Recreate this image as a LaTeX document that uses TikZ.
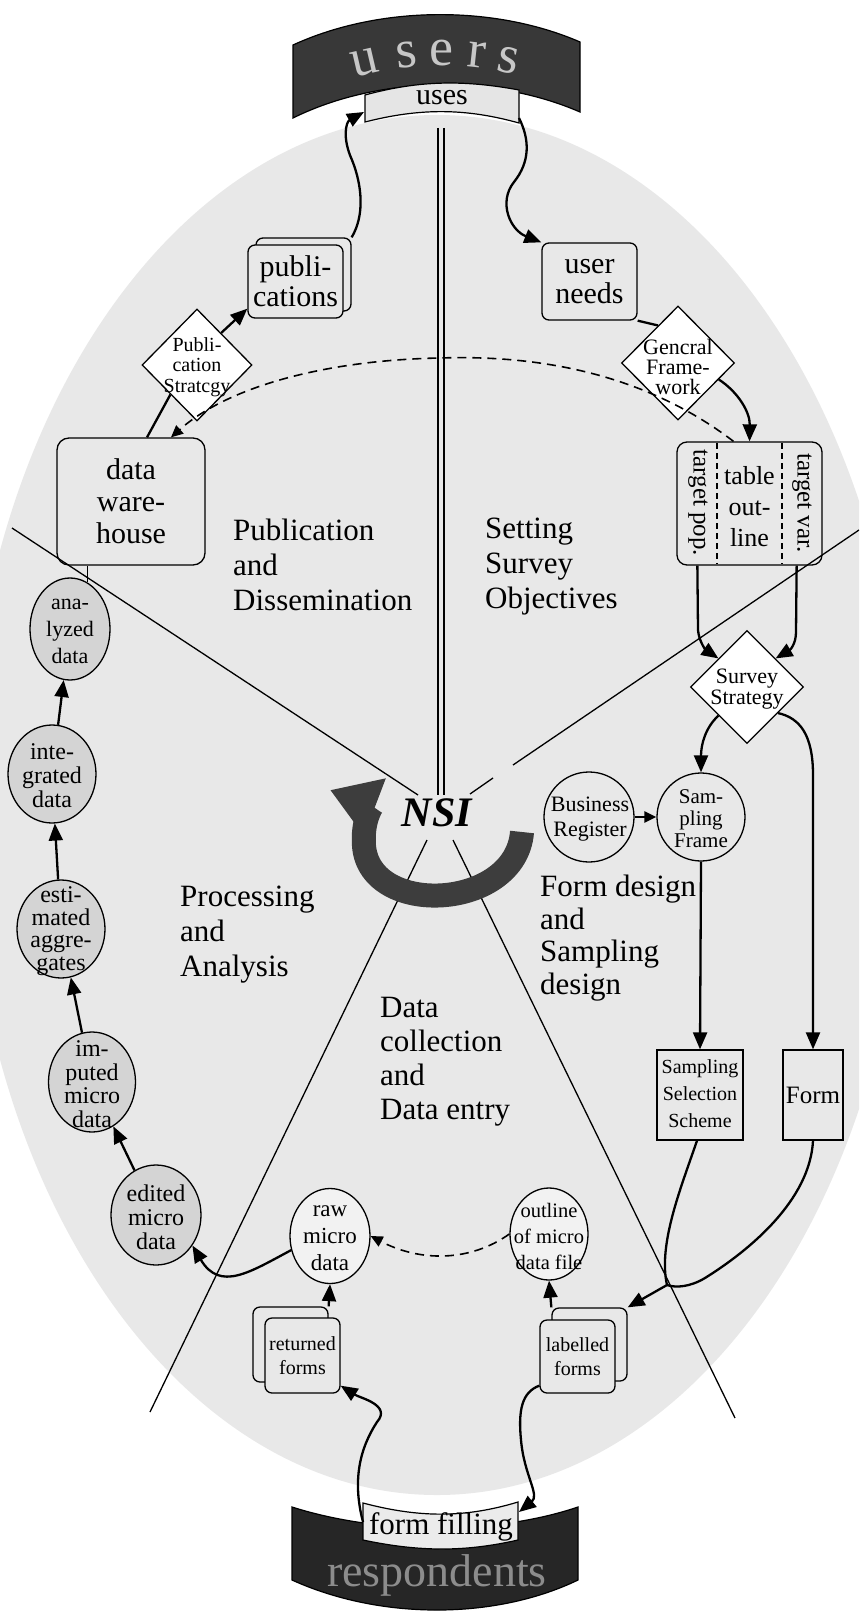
\documentclass[tikz,border=0pt]{standalone}
\usepackage{fontspec}
\setmainfont{Liberation Serif}
\usetikzlibrary{shapes.geometric,arrows.meta,calc}
\newcommand\myfs[2]{\fontsize{#1}{#2}\selectfont}
\colorlet{bgc}{black!9}
\begin{document}
\begin{tikzpicture}[x=1pt,y=-1pt,
  bx/.style={draw, line width=1.3pt, rounded corners=7pt, align=center, inner sep=0pt},
  sq/.style={draw, line width=1.3pt, align=center, inner sep=0pt},
  dia/.style={diamond, draw, line width=1.3pt, fill=white, inner sep=0pt, aspect=1},
  circ/.style={ellipse, draw, line width=1.3pt, inner sep=0pt},
  txt/.style={align=center, inner sep=0pt},
  lbl/.style={align=left, anchor=west, inner sep=0pt, font=\myfs{31}{35}},
  conn/.style={line width=2.3pt},
  tip/.style={-{Triangle[length=17pt,width=14pt]}},
  smalltip/.style={-{Triangle[length=12pt,width=11pt]}},
  dsh/.style={line width=1.6pt, dash pattern=on 9pt off 6pt},
  divl/.style={line width=1.3pt},
  usr/.style={font=\myfs{54}{54}, text=black!22, inner sep=0pt},
  resp/.style={font=\myfs{46}{46}, text=black!45, inner sep=0pt}]

\useasboundingbox (0,0) rectangle (859,1613);
\clip (0,0) rectangle (859,1613);
\fill[white] (0,0) rectangle (859,1613);
% stippled background
\fill[bgc] (437,805) ellipse [x radius=470, y radius=690];

% divider lines
\draw[divl] (12,528) -- (418,795);
\draw[divl] (859,530) -- (513,765);
\draw[divl] (493,778) -- (470,794);
\draw[divl] (427,840) -- (150,1412);
\draw[divl] (453,840) -- (735,1418);
\draw[line width=1.2pt] (438,128) -- (438,795);
\draw[line width=1.2pt] (444,128) -- (444,795);

% NSI circular arrow
\draw[line width=24pt, black!76, -{Triangle[length=48pt,width=58pt]}]
  (522,832) .. controls (516,910) and (370,918) .. (364,846)
  .. controls (362,820) and (372,806) .. (330,790);
\node[font=\myfs{42}{42}\bfseries\itshape, inner sep=1pt] (nsi) at (437,813) {NSI};

% top banner
\filldraw[fill=black!78, line width=1.2pt] (293,45) .. controls (380,5) and (495,5) .. (580,42)
  -- (580,112) .. controls (495,75) and (380,75) .. (293,118) -- cycle;
\foreach \c/\px [count=\i] in {u/368,s/408,e/441,r/475,s/506}
  \node[usr, anchor=base, rotate={-atan(2*0.0016*(\px-441))}] (usr\i) at (\px,{66+0.0016*(\px-441)^2}) {\c};
\filldraw[fill=black!10, line width=1.2pt] (365,95) .. controls (420,80) and (465,80) .. (519,90)
  -- (519,123) .. controls (465,108) and (420,108) .. (365,122) -- cycle;
\node[font=\myfs{30}{30}, anchor=base, inner sep=0pt] (uses) at (442,105) {uses};
\coordinate (usesL) at (364,112);
\coordinate (usesR) at (519,118);

% bottom banner
\filldraw[fill=black!85, line width=1.2pt] (292,1507) .. controls (380,1535) and (495,1535) .. (578,1507)
  -- (578,1580) .. controls (495,1620) and (380,1620) .. (292,1580) -- cycle;
\node[resp, anchor=base] (resp) at (437,1586) {respondents};
\filldraw[fill=black!8, line width=1.2pt] (363,1503) .. controls (420,1518) and (465,1518) .. (518,1502)
  -- (518,1540) .. controls (465,1552) and (420,1552) .. (363,1540) -- cycle;
\node[font=\myfs{31}{31}, anchor=base, inner sep=0pt] (ff) at (441,1534) {form filling};
\coordinate (ffL) at (363,1522);
\coordinate (ffR) at (519,1512);

% region labels
\node[lbl] (lpub) at (233,565) {Publication\\and\\Dissemination};
\node[lbl] (lset) at (485,567) {Setting\\Survey\\Objectives};
\node[lbl] (lproc) at (180,935) {Processing\\and\\Analysis};
\node[lbl, font=\myfs{31}{34}] (ldat) at (380,1062) {Data\\collection\\and\\Data entry};
\node[lbl, font=\myfs{31}{32.5}] (lform) at (540,938) {Form design\\and\\Sampling\\design};

% upper left
\node[bx, fill=bgc, minimum width=95, minimum height=73] (pubback) at (303.5,274.5) {};
\node[bx, fill=bgc, minimum width=95, minimum height=73, font=\myfs{30}{30}] (pub) at (295.5,281.5) {publi-\\cations};
\node[dia, minimum width=110, minimum height=112] (ps) at (197,365) {};
\node[txt, font=\myfs{20}{20.5}] (pst) at (197,367) {Publi-\\cation\\Stratcgy};
\node[bx, rounded corners=12pt, minimum width=148, minimum height=127, font=\myfs{30}{32}] (dw) at (131,501.5) {data\\ware-\\house};

% upper right
\node[bx, minimum width=95, minimum height=77, font=\myfs{30}{30}] (un) at (589.5,281.5) {user\\needs};
\node[dia, minimum width=113, minimum height=114] (gf) at (678,363) {};
\node[txt, font=\myfs{22}{20}] (gft) at (678,367) {Gencral\\Frame-\\work};
\node[bx, rounded corners=10pt, minimum width=145, minimum height=123] (tgt) at (749.5,503.5) {};
\draw[line width=1.2pt, dash pattern=on 6pt off 4pt] (717,443) -- (717,564);
\draw[line width=1.2pt, dash pattern=on 6pt off 4pt] (782,443) -- (782,564);
\node[txt, rotate=-90, font=\myfs{25}{25}] (tpop) at (698,503) {target pop.};
\node[txt, font=\myfs{26}{31}] (ttab) at (749.5,507) {table\\out-\\line};
\node[txt, rotate=-90, font=\myfs{25}{25}] (tvar) at (802,503) {target var.};
\node[dia, minimum width=113, minimum height=113] (ss) at (747,687) {};
\node[txt, font=\myfs{22}{21}] (sst) at (747,689) {Survey\\Strategy};
\node[circ, minimum width=90, minimum height=90] (br) at (589,817) {};
\node[txt, font=\myfs{22}{25}] (brt) at (590,819) {Business\\Register};
\node[circ, minimum width=88, minimum height=88] (sf) at (701,817) {};
\node[txt, font=\myfs{21}{22}] (sft) at (701,819) {Sam-\\pling\\Frame};
\node[sq, minimum width=86, minimum height=90] (sss) at (700,1095) {};
\node[txt, font=\myfs{20}{27}] (ssst) at (700,1094) {Sampling\\Selection\\Scheme};
\node[sq, minimum width=60, minimum height=90, font=\myfs{25}{25}] (form) at (813,1095) {Form};

% bottom
\node[circ, fill=black!5, minimum width=78, minimum height=92] (ol) at (549,1234) {};
\node[txt, font=\myfs{20.5}{26}] (olt) at (549,1236) {outline\\of micro\\data file};
\node[circ, fill=black!5, minimum width=80, minimum height=95] (raw) at (330,1236) {};
\node[txt, font=\myfs{23}{27}] (rawt) at (330,1238) {raw\\micro\\data};
\node[bx, fill=bgc, minimum width=75, minimum height=75] (rfback) at (290.5,1344.5) {};
\node[bx, fill=bgc, minimum width=75, minimum height=75, font=\myfs{20}{24}] (rf) at (302.5,1355.5) {returned\\forms};
\node[bx, fill=bgc, minimum width=75, minimum height=73] (lfback) at (589.5,1344.5) {};
\node[bx, fill=bgc, minimum width=75, minimum height=73, font=\myfs{20}{24}] (lf) at (577.5,1356.5) {labelled\\forms};

% left column
\node[circ, fill=black!17, minimum width=90, minimum height=100] (ed) at (156,1215) {};
\node[txt, font=\myfs{24}{24}] (edt) at (156,1217) {edited\\micro\\data};
\node[circ, fill=black!17, minimum width=87, minimum height=100] (im) at (92,1082) {};
\node[txt, font=\myfs{24}{23.5}] (imt) at (92,1084) {im-\\puted\\micro\\data};
\node[circ, fill=black!17, minimum width=88, minimum height=98] (est) at (61,929) {};
\node[txt, font=\myfs{24}{22.5}] (estt) at (61,931) {esti-\\mated\\aggre-\\gates};
\node[circ, fill=black!17, minimum width=88, minimum height=98] (int) at (52,774) {};
\node[txt, font=\myfs{24}{24}] (intt) at (52,776) {inte-\\grated\\data};
\node[circ, fill=black!17, minimum width=80, minimum height=102] (an) at (70,629) {};
\node[txt, font=\myfs{22}{27}] (ant) at (70,631) {ana-\\lyzed\\data};

% connectors
\draw[conn,tip] (pubback.north east) .. controls (365,215) and (362,185) .. (352,160)
  .. controls (342,138) and (346,122) .. (usesL);
\draw[conn,tip] (usesR) .. controls (530,140) and (530,162) .. (514,182)
  .. controls (498,202) and (510,230) .. (un.north west);
\draw[conn] (un.south east) -- (gf.118);
\draw[conn,tip] (gf.-22) .. controls (738,392) and (750,412) .. (tgt.north);
\draw[dsh,smalltip] ($(tgt.north)+(-16,0)$) .. controls (640,370) and (530,355) .. (440,358)
  .. controls (330,360) and (230,385) .. ($(dw.north)+(40,0)$);
\draw[conn] ($(dw.north)+(16,0)$) -- (ps.228);
\draw[conn,tip] (ps.53) -- ($(pub.south west)+(0,-10)$);
\draw[conn,tip] ($(tgt.south west)+(21,0)$) -- (698,630) .. controls (699,642) and (706,650) .. (ss.135);
\draw[conn,tip] ($(tgt.south east)+(-26,0)$) -- (796,632) .. controls (796,644) and (790,650) .. (ss.45);
\draw[conn,tip] (ss.225) .. controls (705,728) and (701,745) .. (sf.north);
\draw[conn,tip] (ss.-40) .. controls (800,718) and (813,735) .. (813,775) -- (form.north);
\draw[conn,smalltip] (br.east) -- (sf.west);
\draw[conn,tip] (sf.south) -- (sss.north);
\coordinate (mg) at (667,1285);
\draw[conn] ($(sss.south)+(-3,0)$) .. controls (680,1190) and (658,1245) .. (mg);
\draw[conn] (form.south) .. controls (810,1200) and (750,1250) .. (705,1278)
  .. controls (690,1287) and (676,1288) .. (mg);
\draw[conn,tip] (mg) -- (lfback.north east);
\draw[conn,tip] (lfback.north west) -- (ol.south);
\draw[conn,tip] (rfback.north east) -- (raw.south);
\draw[dsh,smalltip] (ol.west) .. controls (470,1262) and (420,1262) .. (raw.east);
\draw[conn,tip] (raw.200) .. controls (250,1272) and (220,1292) .. (ed.-40);
\draw[conn,tip] (ed) -- (im);
\draw[conn,tip] (im) -- (est);
\draw[conn,tip] (est) -- (int);
\draw[conn,tip] (int) -- (an);
\draw[line width=1.1pt] (an.70) -- (an.70 |- dw.south);
\draw[conn,tip] ($(lf.south west)+(0,-8)$) .. controls (522,1392) and (518,1410) .. (521,1440)
  .. controls (524,1475) and (540,1495) .. (ffR);
\draw[conn,tip] (ffL) .. controls (352,1480) and (360,1448) .. (377,1422)
  .. controls (392,1405) and (360,1398) .. ($(rf.south east)+(0,-8)$);
\end{tikzpicture}
\end{document}
